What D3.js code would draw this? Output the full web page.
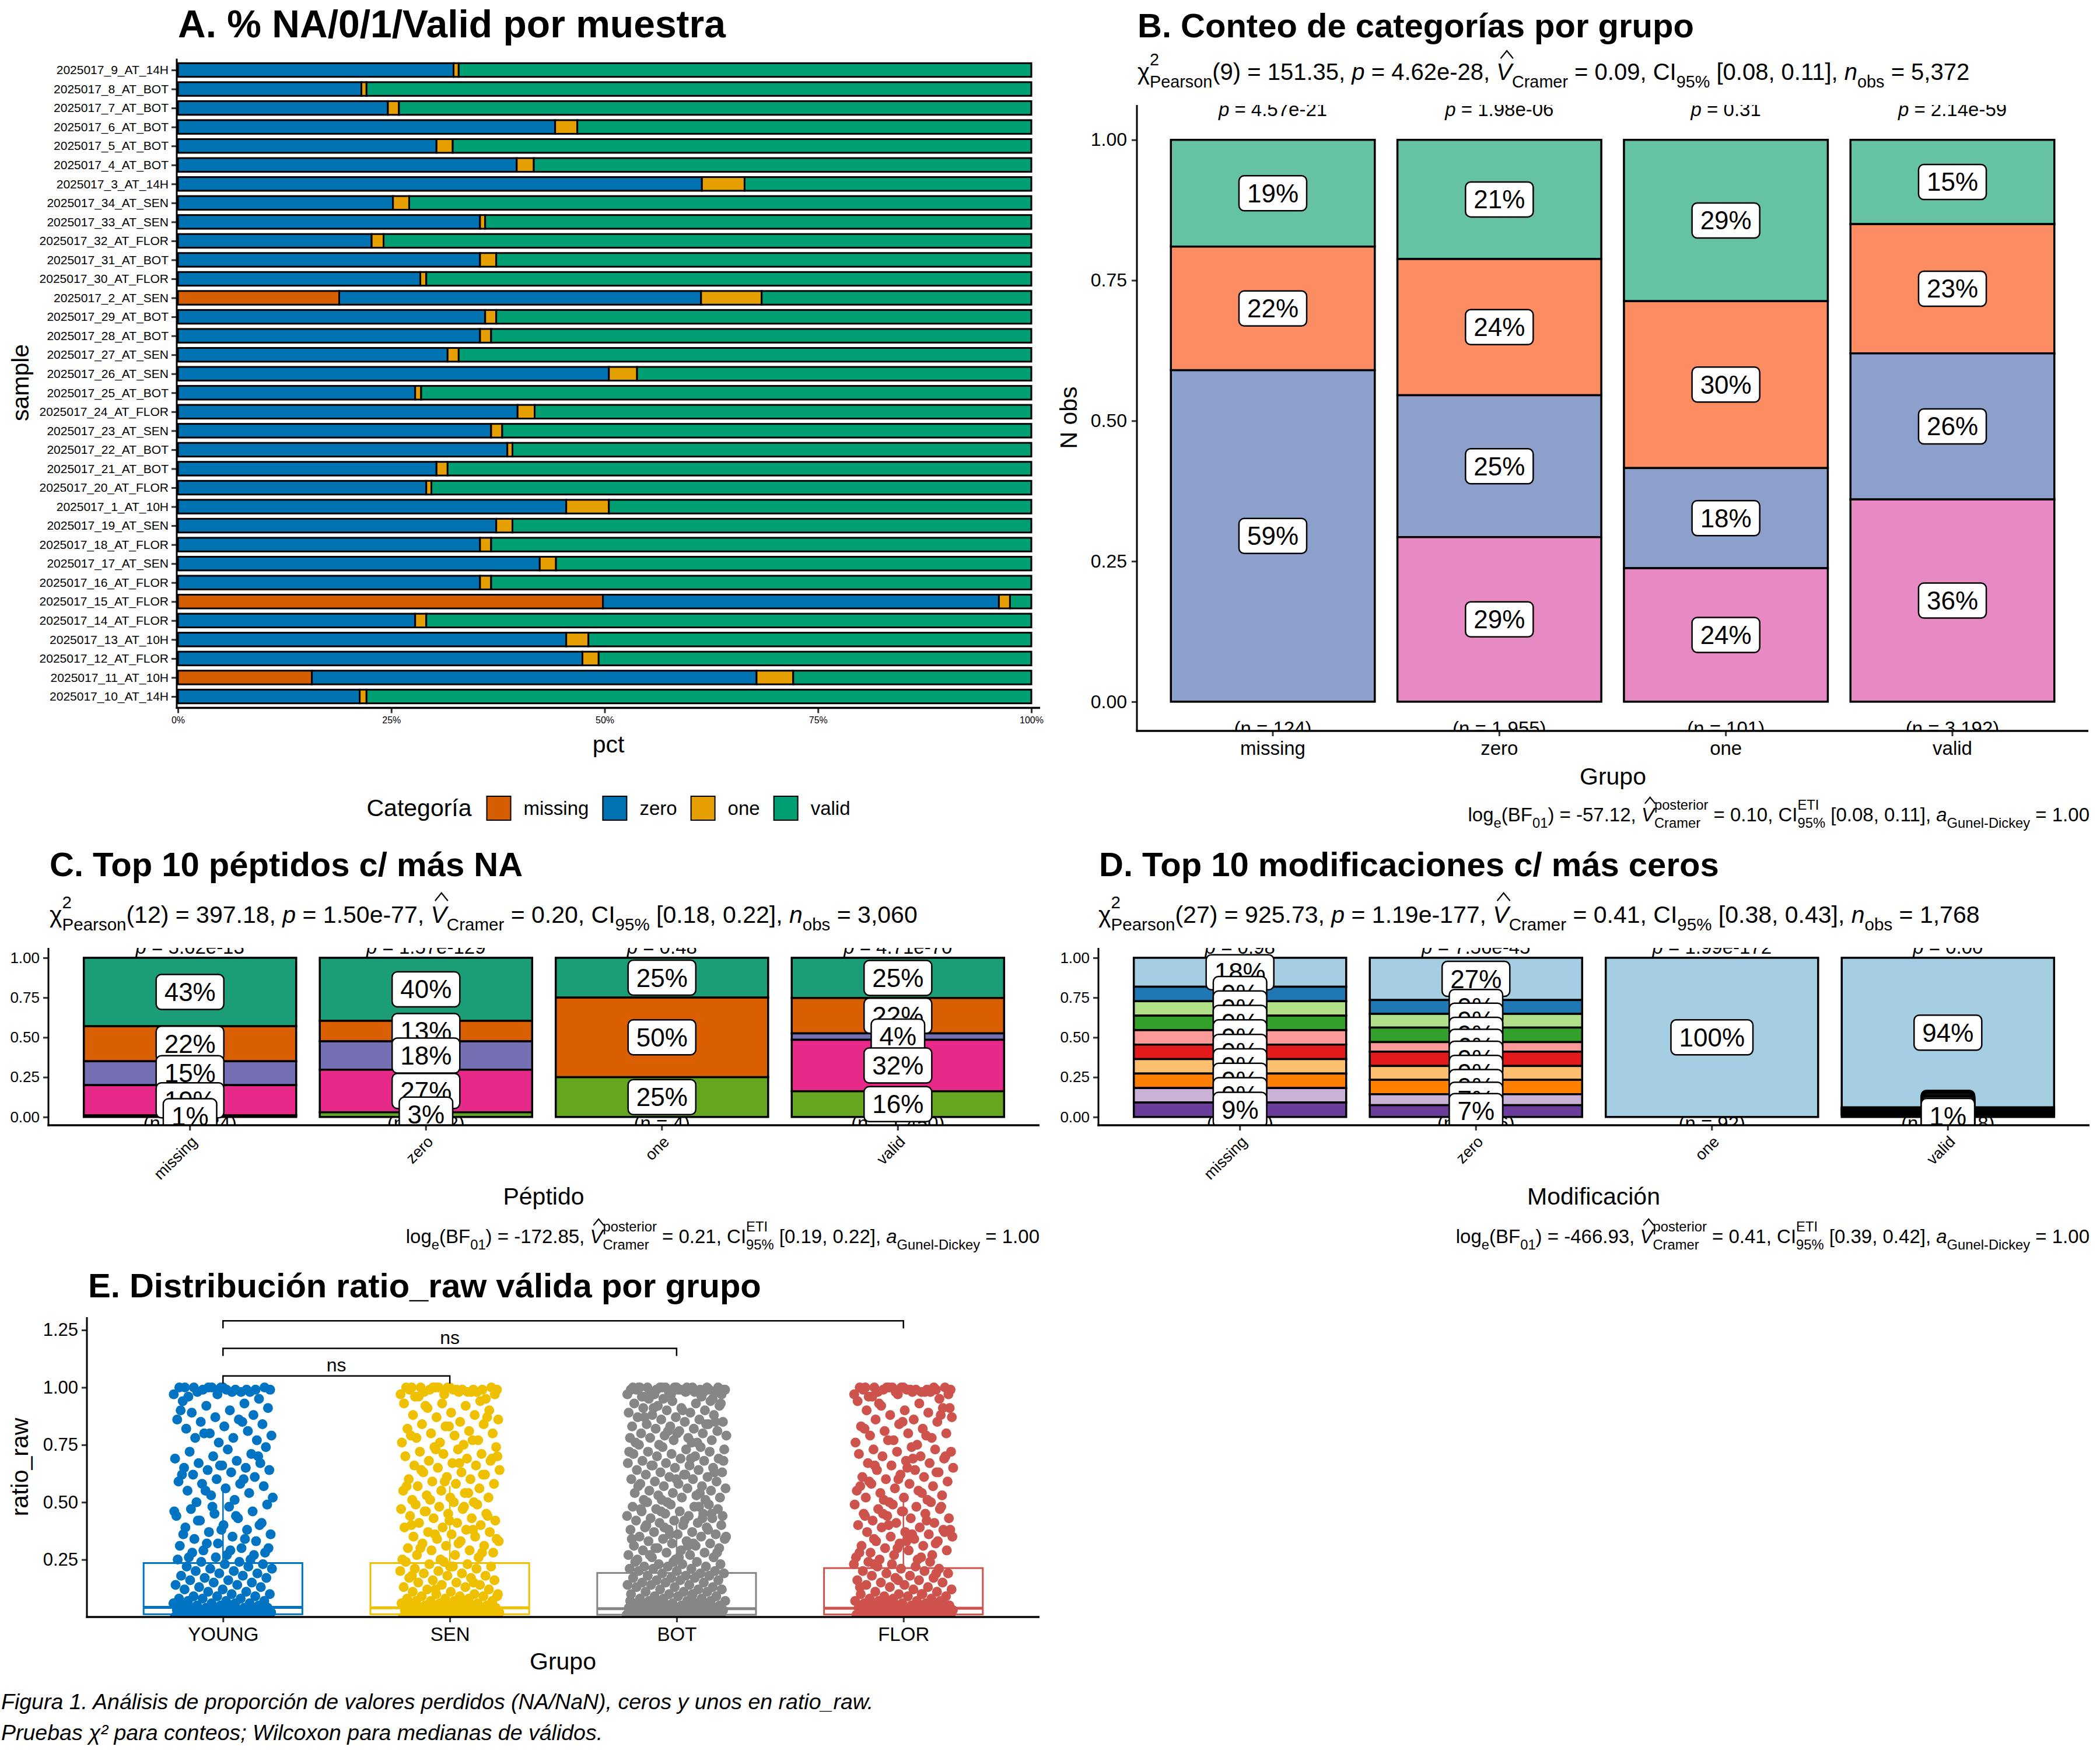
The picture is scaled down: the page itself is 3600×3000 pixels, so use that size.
<!DOCTYPE html>
<html>
<head>
<meta charset="utf-8">
<script src="https://cdn.jsdelivr.net/npm/d3@7"></script>
<style>
  body { margin: 0; background: #fff; }
  svg text { font-family: "Liberation Sans", Arial, Helvetica, sans-serif; fill: #000; }
</style>
</head>
<body>
<svg id="fig" width="3600" height="3000"></svg>
<script>
/* ---------- data: panel A ---------- */
const catsA = ["missing", "zero", "one", "valid"];
const catColorsA = ["#D55E00", "#0072B2", "#E69F00", "#009E73"];
const samples = [
  "2025017_9_AT_14H", "2025017_8_AT_BOT", "2025017_7_AT_BOT", "2025017_6_AT_BOT",
  "2025017_5_AT_BOT", "2025017_4_AT_BOT", "2025017_3_AT_14H", "2025017_34_AT_SEN",
  "2025017_33_AT_SEN", "2025017_32_AT_FLOR", "2025017_31_AT_BOT", "2025017_30_AT_FLOR",
  "2025017_2_AT_SEN", "2025017_29_AT_BOT", "2025017_28_AT_BOT", "2025017_27_AT_SEN",
  "2025017_26_AT_SEN", "2025017_25_AT_BOT", "2025017_24_AT_FLOR", "2025017_23_AT_SEN",
  "2025017_22_AT_BOT", "2025017_21_AT_BOT", "2025017_20_AT_FLOR", "2025017_1_AT_10H",
  "2025017_19_AT_SEN", "2025017_18_AT_FLOR", "2025017_17_AT_SEN", "2025017_16_AT_FLOR",
  "2025017_15_AT_FLOR", "2025017_14_AT_FLOR", "2025017_13_AT_10H", "2025017_12_AT_FLOR",
  "2025017_11_AT_10H", "2025017_10_AT_14H"
];
const pctMissing = [0, 0, 0, 0, 0, 0, 0, 0, 0, 0, 0, 0, .189, 0, 0, 0, 0, 0, 0, 0, 0, 0, 0, 0, 0, 0, 0, 0, .498, 0, 0, 0, .157, 0];
const pctZero = [.323, .215, .246, .442, .303, .397, .614, .252, .354, .227, .354, .284, .424, .360, .354, .316,
  .505, .278, .398, .367, .386, .303, .291, .455, .373, .354, .424, .354, .464, .278, .455, .474, .521, .213];
const pctOne = [.006, .006, .013, .026, .019, .020, .050, .019, .006, .014, .019, .007, .071, .013, .013, .013,
  .033, .007, .020, .013, .006, .013, .006, .050, .019, .013, .019, .013, .013, .013, .026, .019, .043, .008];
const pctValid = [.671, .779, .741, .532, .678, .583, .336, .729, .640, .759, .627, .709, .316, .627, .633, .671,
  .462, .715, .582, .620, .608, .684, .703, .495, .608, .633, .557, .633, .025, .709, .519, .507, .279, .779];

/* ---------- data: panel B ---------- */
const groupsB = ["missing", "zero", "one", "valid"];
const colorsB = ["#66C2A5", "#FC8D62", "#8DA0CB", "#E78AC3"];   // top -> bottom
const pctB = [[19, 22, 59, 0], [21, 24, 25, 29], [29, 30, 18, 24], [15, 23, 26, 36]];
const nB = [124, 1955, 101, 3192];
const pB = ["4.57e-21", "1.98e-06", "0.31", "2.14e-59"];

/* ---------- data: panel C ---------- */
const colorsC = ["#1B9E77", "#D95F02", "#7570B3", "#E7298A", "#66A61E"];
const pctC = [[43, 22, 15, 19, 1], [40, 13, 18, 27, 3], [25, 50, 0, 0, 25], [25, 22, 4, 32, 16]];
const nC = [1024, 582, 4, 1450];
const pC = ["5.62e-13", "1.57e-129", "0.48", "4.71e-70"];

/* ---------- data: panel D ---------- */
const colorsD = ["#A6CEE3", "#1F78B4", "#B2DF8A", "#33A02C", "#FB9A99", "#E31A1C", "#FDBF6F", "#FF7F00", "#CAB2D6", "#6A3D9A"];
const pctD = [
  [18.2, 9.1, 9.1, 9.1, 9.1, 9.1, 9.1, 9.1, 9.1, 9.1],
  [26.5, 8.7, 8.6, 9.1, 6.0, 9.0, 8.7, 9.0, 6.9, 7.4],
  [100, 0, 0, 0, 0, 0, 0, 0, 0, 0],
  [94, 0.6, 0.5, 0.6, 0.4, 0.9, 0.6, 0.5, 0.6, 1.3]
];
const nD = [22, 636, 92, 1018];
const pD = ["0.98", "7.56e-45", "1.99e-172", "0.00"];

/* ---------- stats strings (subtitle / caption) ---------- */
const subB = ["9", "151.35", "4.62e-28", "0.09", "[0.08, 0.11]", "5,372"];
const subC = ["12", "397.18", "1.50e-77", "0.20", "[0.18, 0.22]", "3,060"];
const subD = ["27", "925.73", "1.19e-177", "0.41", "[0.38, 0.43]", "1,768"];
const capB = ["-57.12", "0.10", "[0.08, 0.11]", "1.00"];
const capC = ["-172.85", "0.21", "[0.19, 0.22]", "1.00"];
const capD = ["-466.93", "0.41", "[0.39, 0.42]", "1.00"];

/* ---------- data: panel E ---------- */
const groupsE = ["YOUNG", "SEN", "BOT", "FLOR"];
const colorsE = ["#0073C2", "#EFC000", "#868686", "#CD534C"];
const boxQ1 = [.012, .012, .010, .011];
const boxMed = [.042, .040, .036, .038];
const boxQ3 = [.235, .235, .192, .213];
const whiskHi = [.56, .57, .46, .51];
const bracketFrom = ["YOUNG", "YOUNG", "YOUNG"];
const bracketTo = ["SEN", "BOT", "FLOR"];
const bracketY = [1.05, 1.17, 1.29];
const bracketLab = ["ns", "ns", "ns"];
const ratioYoung = [1,1,.99,1,.99,.98,1,.99,.97,1,.98,.99,1,.99,.96,.98,1,.97,.99,.98,.95,1,
  .94,.93,.92,.91,.9,.89,.88,.87,.86,.86,.85,.84,.83,.82,.81,.8,.79,.78,.78,.77,.76,.9,.85,.8,
  .74,.73,.72,.71,.7,.69,.68,.67,.67,.66,.65,.65,.64,.64,.63,.62,.61,.6,.59,.58,.58,.57,.56,.55,.54,.53,.52,.51,.5,.7,.66,.62,.6,.55,
  .49,.48,.47,.46,.45,.44,.43,.42,.41,.4,.39,.38,.37,.36,.35,.34,.33,.32,.31,.3,.29,.28,.27,.26,.25,.48,.46,.44,.42,.4,.38,.36,.34,.32,.3,.29,.28,.27,.26,.25,
  .24,.24,.23,.23,.22,.22,.21,.21,.2,.2,.19,.19,.18,.18,.17,.17,.16,.16,.15,.15,.14,.14,.13,.13,.12,.12,.11,.11,.1,.1,
  .09,.09,.09,.08,.08,.08,.07,.07,.07,.06,.06,.06,.06,.05,.05,.05,.05,.04,.04,.04,.04,.04,.03,.03,.03,.03,.03,
  .02,.02,.02,.02,.02,.02,.01,.01,.01,.01,.01,.01,.01,0,0,0,0,0,0,.02,.03,.04,.05];
const ratioSen = [1,1,.99,1,.99,.98,1,.99,.97,1,.98,.99,1,.99,.96,.98,1,.97,.99,.98,.95,1,.99,.98,1,.97,.99,.96,
  .94,.93,.93,.92,.91,.9,.89,.88,.88,.87,.86,.85,.84,.84,.83,.82,.81,.8,.8,.79,.78,.77,.76,.76,.75,.92,.87,.83,.79,.77,
  .74,.74,.73,.72,.71,.71,.7,.69,.68,.68,.67,.66,.66,.65,.64,.63,.63,.62,.61,.6,.6,.59,.58,.58,.57,.56,.55,.55,.54,.53,.52,.52,.51,.5,.73,.7,.67,.64,.62,.59,.57,.54,.51,.69,
  .5,.49,.49,.48,.47,.47,.46,.45,.45,.44,.43,.43,.42,.41,.41,.4,.39,.39,.38,.37,.37,.36,.35,.35,.34,.33,.33,.32,.31,.31,.3,.29,.29,.28,.27,.27,.26,.25,.25,.48,.46,.44,.42,.4,.38,.36,.34,.32,.3,.28,
  .24,.24,.23,.23,.22,.22,.21,.21,.2,.2,.19,.19,.18,.18,.17,.17,.16,.16,.15,.15,.14,.14,.13,.13,.12,.12,.11,.11,.1,.1,.1,
  .09,.09,.09,.08,.08,.08,.07,.07,.07,.07,.06,.06,.06,.06,.05,.05,.05,.05,.05,.04,.04,.04,.04,.04,.03,.03,.03,.03,.03,.03,
  .02,.02,.02,.02,.02,.02,.01,.01,.01,.01,.01,.01,.01,0,0,0,0,0,0,0,.22,.18,.15,.12,.09,.06,.04,.02,.01];
const ratioBot = [1,1,.99,1,.99,.98,1,.99,.97,1,.98,.99,1,.99,.96,.98,1,.97,.99,.98,.95,1,.99,.98,1,.97,.99,.96,1,.98,.99,1,.97,.98,.99,1,.96,.95,.99,1,
  .95,.94,.94,.93,.93,.92,.92,.91,.91,.9,.9,.89,.89,.88,.88,.87,.87,.86,.86,.85,.85,.84,.84,.83,.83,.82,.82,.81,.81,.8,.8,.79,.79,.78,.78,.77,.77,.76,.76,.75,.93,.9,.87,.84,.81,.78,.76,.91,.85,.8,
  .75,.74,.74,.73,.73,.72,.72,.71,.71,.7,.7,.69,.69,.68,.68,.67,.67,.66,.66,.65,.65,.64,.64,.63,.63,.62,.62,.61,.61,.6,.6,.59,.59,.58,.58,.57,.57,.56,.56,.55,.55,.54,.54,.53,.53,.52,.52,.51,.51,.5,.72,.69,.66,.63,.6,.57,.54,.51,.68,.62,
  .5,.49,.49,.48,.48,.47,.47,.46,.46,.45,.45,.44,.44,.43,.43,.42,.42,.41,.41,.4,.4,.39,.39,.38,.38,.37,.37,.36,.36,.35,.35,.34,.34,.33,.33,.32,.32,.31,.31,.3,.3,.29,.29,.28,.28,.27,.27,.26,.26,.25,.25,.48,.46,.44,.42,.4,.38,.36,.34,.32,.3,.28,.26,.47,.43,.39,.35,.31,.27,.45,
  .24,.24,.24,.23,.23,.23,.22,.22,.22,.21,.21,.21,.2,.2,.2,.19,.19,.19,.18,.18,.18,.17,.17,.17,.16,.16,.16,.15,.15,.15,.14,.14,.14,.13,.13,.13,.12,.12,.12,.11,.11,.11,.1,.1,.1,
  .09,.09,.09,.08,.08,.08,.07,.07,.07,.07,.06,.06,.06,.06,.05,.05,.05,.05,.05,.04,.04,.04,.04,.04,.03,.03,.03,.03,.03,.03,
  .02,.02,.02,.02,.02,.02,.01,.01,.01,.01,.01,.01,.01,0,0,0,0,0,0,0,.02,.03,.05,.07,.09];
const ratioFlor = [1,1,.99,1,.99,.98,1,.99,.97,1,.98,.99,1,.99,.96,.98,1,.97,.99,.98,.95,1,.99,.98,1,.97,.99,.96,1,.98,
  .94,.93,.92,.91,.9,.9,.89,.88,.87,.86,.86,.85,.84,.83,.82,.81,.8,.8,.79,.78,.77,.76,.75,.93,.88,.85,.82,.79,.77,.91,
  .74,.73,.73,.72,.71,.7,.7,.69,.68,.67,.67,.66,.65,.64,.64,.63,.62,.61,.61,.6,.59,.58,.58,.57,.56,.55,.55,.54,.53,.52,.52,.51,.5,.72,.69,.66,.63,.6,.57,.54,.51,.7,.65,.59,
  .5,.49,.49,.48,.47,.47,.46,.45,.45,.44,.43,.43,.42,.41,.41,.4,.39,.39,.38,.37,.37,.36,.35,.35,.34,.33,.33,.32,.31,.31,.3,.29,.29,.28,.27,.27,.26,.25,.25,.48,.46,.44,.42,.4,.38,.36,.34,.32,.3,.28,.26,.45,.37,.33,
  .24,.24,.23,.23,.22,.22,.21,.21,.2,.2,.19,.19,.18,.18,.17,.17,.16,.16,.15,.15,.14,.14,.13,.13,.12,.12,.11,.11,.1,.1,.1,
  .09,.09,.09,.08,.08,.08,.07,.07,.07,.07,.06,.06,.06,.06,.05,.05,.05,.05,.05,.04,.04,.04,.04,.04,.03,.03,.03,.03,.03,.03,
  .02,.02,.02,.02,.02,.02,.01,.01,.01,.01,.01,.01,.01,0,0,0,0,0,0,0,.23,.19,.16,.13,.1,.07,.05,.03,.01];
const ratioE = [ratioYoung, ratioSen, ratioBot, ratioFlor];

/* ---------- helpers ---------- */
const svg = d3.select("#fig");

function txt(g, x, y, s, size, o = {}) {
  const t = g.append("text").attr("x", x).attr("y", y).style("font-size", size + "px").text(s);
  if (o.anchor) t.attr("text-anchor", o.anchor);
  if (o.bold) t.style("font-weight", "bold");
  if (o.italic) t.style("font-style", "italic");
  if (o.rot) t.attr("transform", `rotate(${o.rot},${x},${y})`);
  return t;
}

// plotmath-ish line: segments of plain / italic / stacked sup+sub text
function rich(parent, x, y, segs, fs, anchor) {
  const g = parent.append("g");
  const ss = fs * 0.72;
  let cx = 0;
  const put = (s, dy, size, it) => {
    const t = g.append("text").attr("x", cx).attr("y", dy).style("font-size", size + "px")
      .text(s.replace(/ /g, "\u00A0"));
    if (it) t.style("font-style", "italic");
    return t.node().getComputedTextLength();
  };
  segs.forEach((s) => {
    if (s.t !== undefined) {
      const w = put(s.t, 0, fs, s.it);
      if (s.hat) {
        g.append("path")
          .attr("d", `M${cx + w * 0.15 + fs * 0.08},${-fs * 0.92} L${cx + w * 0.55 + fs * 0.08},${-fs * 1.25} L${cx + w * 0.95 + fs * 0.08},${-fs * 0.92}`)
          .attr("fill", "none").attr("stroke", "#000").attr("stroke-width", 2.2);
      }
      cx += w;
    } else {
      let w1 = 0, w2 = 0;
      if (s.sup) w1 = put(s.sup, -fs * 0.62, ss);
      if (s.sub) w2 = put(s.sub, fs * 0.32, ss);
      cx += Math.max(w1, w2);
    }
  });
  const x0 = anchor === "end" ? x - cx : x;
  g.attr("transform", `translate(${x0},${y})`);
}

function subtitleSegs(v) {
  return [
    { t: "χ" }, { sup: "2", sub: "Pearson" }, { t: `(${v[0]}) = ${v[1]}, ` },
    { t: "p", it: 1 }, { t: ` = ${v[2]}, ` },
    { t: "V", it: 1, hat: 1 }, { sub: "Cramer" }, { t: ` = ${v[3]}, CI` },
    { sub: "95%" }, { t: ` ${v[4]}, ` }, { t: "n", it: 1 }, { sub: "obs" }, { t: ` = ${v[5]}` }
  ];
}
function captionSegs(v) {
  return [
    { t: "log" }, { sub: "e" }, { t: "(BF" }, { sub: "01" }, { t: `) = ${v[0]}, ` },
    { t: "V", it: 1, hat: 1 }, { sup: "posterior", sub: "Cramer" }, { t: ` = ${v[1]}, CI` },
    { sup: "ETI", sub: "95%" }, { t: ` ${v[2]}, ` }, { t: "a", it: 1 }, { sub: "Gunel-Dickey" },
    { t: ` = ${v[3]}` }
  ];
}

function styleAxis(ax, size) {
  ax.attr("font-family", null).attr("font-size", null);
  ax.select(".domain").remove();
  ax.selectAll(".tick line").attr("stroke", "#333").attr("stroke-width", 3);
  ax.selectAll(".tick text").style("font-size", size + "px").attr("fill", "#000");
}

function axisLines(g, x0, x1, y0, y1) {
  // y0 = bottom (x-axis), y1 = top
  g.append("line").attr("x1", x0).attr("x2", x0).attr("y1", y1).attr("y2", y0 + 1.5)
    .attr("stroke", "#000").attr("stroke-width", 3);
  g.append("line").attr("x1", x0 - 1.5).attr("x2", x1).attr("y1", y0).attr("y2", y0)
    .attr("stroke", "#000").attr("stroke-width", 3.5);
}

function pctLabel(g, cx, cy, s) {
  const lg = g.append("g");
  const t = lg.append("text").attr("x", cx).attr("y", cy + 15.5)
    .attr("text-anchor", "middle").style("font-size", "44px").text(s);
  const w = t.node().getComputedTextLength();
  lg.insert("rect", "text").attr("x", cx - w / 2 - 14).attr("y", cy - 30)
    .attr("width", w + 28).attr("height", 60).attr("rx", 9)
    .attr("fill", "#fff").attr("stroke", "#000").attr("stroke-width", 2.5);
}

/* stacked-proportion panel (B, C, D) */
function mosaic(g, xs, ys, groups, pcts, colors, ns, ps, clipId) {
  const [x0, x1] = xs.range();
  const [yb, yt] = ys.range();
  g.append("clipPath").attr("id", clipId).append("rect")
    .attr("x", x0).attr("y", yt).attr("width", x1 - x0).attr("height", yb - yt);
  const pg = g.append("g").attr("clip-path", `url(#${clipId})`);

  const segs = [];
  groups.forEach((grp, i) => {
    const tot = d3.sum(pcts[i]);
    let top = 1;
    pcts[i].forEach((v, k) => {
      const share = v / tot;
      segs.push({ grp, k, v, share, top, bot: top - share });
      top -= share;
    });
  });
  const shown = segs.filter((s) => s.v > 0);

  pg.selectAll("rect.seg").data(shown).join("rect").attr("class", "seg")
    .attr("x", (d) => xs(d.grp)).attr("width", xs.bandwidth())
    .attr("y", (d) => ys(d.top)).attr("height", (d) => ys(d.bot) - ys(d.top))
    .attr("fill", (d) => colors[d.k]).attr("stroke", "#000").attr("stroke-width", 3.5);

  groups.forEach((grp, i) => {
    const cx = xs(grp) + xs.bandwidth() / 2;
    const pt = pg.append("text").attr("x", cx).attr("y", ys(1.05) + 7)
      .attr("text-anchor", "middle").style("font-size", "33px");
    pt.append("tspan").style("font-style", "italic").text("p");
    pt.append("tspan").text(" = " + ps[i]);
    pg.append("text").attr("x", cx).attr("y", ys(-0.05) + 9)
      .attr("text-anchor", "middle").style("font-size", "33px")
      .text("(n = " + d3.format(",")(ns[i]) + ")");
  });

  shown.forEach((s) => {
    pctLabel(pg, xs(s.grp) + xs.bandwidth() / 2, ys((s.top + s.bot) / 2), Math.round(s.share * 100) + "%");
  });
}

/* ---------- panel A ---------- */
const gA = svg.append("g");
const xA = d3.scaleLinear().domain([0, 1]).range([305, 1768]);
const yA = d3.scalePoint().domain(samples).range([100.5, 1213.5]).padding(0.6);
const barHA = yA.step() * 0.72;
const rowsA = samples.map((s, i) => ({
  sample: s, missing: pctMissing[i], zero: pctZero[i], one: pctOne[i], valid: pctValid[i]
}));
const stackA = d3.stack().keys(catsA)(rowsA);

gA.selectAll("g.layer").data(stackA).join("g").attr("class", "layer")
  .attr("fill", (d, i) => catColorsA[i])
  .selectAll("rect").data((d) => d.filter((v) => v[1] - v[0] > 0)).join("rect")
  .attr("x", (d) => xA(d[0])).attr("width", (d) => xA(d[1]) - xA(d[0]))
  .attr("y", (d) => yA(d.data.sample) - barHA / 2).attr("height", barHA)
  .attr("stroke", "#000").attr("stroke-width", 3);

const axAy = gA.append("g").attr("transform", "translate(303,0)")
  .call(d3.axisLeft(yA).tickSize(9).tickPadding(5));
styleAxis(axAy, 21);
const axAx = gA.append("g").attr("transform", "translate(0,1213.5)")
  .call(d3.axisBottom(xA).tickValues([0, .25, .5, .75, 1]).tickFormat(d3.format(".0%")).tickSize(9).tickPadding(6));
styleAxis(axAx, 16);
axisLines(gA, 303, 1783, 1213.5, 100.5);
txt(gA, 305, 64, "A. % NA/0/1/Valid por muestra", 66, { bold: 1 });
txt(gA, 1043, 1290, "pct", 41, { anchor: "middle" });
txt(gA, 49, 656, "sample", 41, { anchor: "middle", rot: -90 });

// legend
const lgA = gA.append("g");
let lx = 0;
const ltitle = txt(lgA, 0, 14, "Categoría", 41);
lx += ltitle.node().getComputedTextLength() + 26;
catsA.forEach((c, i) => {
  lgA.append("rect").attr("x", lx).attr("y", -20).attr("width", 41).attr("height", 41)
    .attr("fill", catColorsA[i]).attr("stroke", "#000").attr("stroke-width", 2);
  lx += 41 + 22;
  const t = txt(lgA, lx, 12, c, 33);
  lx += t.node().getComputedTextLength() + (i < catsA.length - 1 ? 24 : 0);
});
lgA.attr("transform", `translate(${1043 - lx / 2},1385)`);

/* ---------- panel B ---------- */
const gB = svg.append("g");
const xB = d3.scaleBand().domain(groupsB).range([1949, 3580]).paddingInner(0.1).paddingOuter(0.15);
const yB = d3.scaleLinear().domain([-0.052, 1.062]).range([1253, 180]);
mosaic(gB, xB, yB, groupsB, pctB, colorsB, nB, pB, "clipB");
const axBy = gB.append("g").attr("transform", "translate(1949,0)")
  .call(d3.axisLeft(yB).tickValues([0, .25, .5, .75, 1]).tickFormat(d3.format(".2f")).tickSize(9).tickPadding(8));
styleAxis(axBy, 32);
const axBx = gB.append("g").attr("transform", "translate(0,1253)")
  .call(d3.axisBottom(xB).tickSize(9).tickPadding(9));
styleAxis(axBx, 33);
axisLines(gB, 1949, 3580, 1253, 180);
txt(gB, 1950, 64, "B. Conteo de categorías por grupo", 58, { bold: 1 });
rich(gB, 1950, 137, subtitleSegs(subB), 40, "start");
txt(gB, 2765, 1345, "Grupo", 41, { anchor: "middle" });
txt(gB, 1846, 716, "N obs", 41, { anchor: "middle", rot: -90 });
rich(gB, 3582, 1408, captionSegs(capB), 33, "end");

/* ---------- panel C ---------- */
const gC = svg.append("g");
const xC = d3.scaleBand().domain(groupsB).range([83, 1782]).paddingInner(0.1).paddingOuter(0.15);
const yC = d3.scaleLinear().domain([-0.052, 1.062]).range([1929, 1625]);
mosaic(gC, xC, yC, groupsB, pctC, colorsC, nC, pC, "clipC");
const axCy = gC.append("g").attr("transform", "translate(83,0)")
  .call(d3.axisLeft(yC).tickValues([0, .25, .5, .75, 1]).tickFormat(d3.format(".2f")).tickSize(9).tickPadding(6));
styleAxis(axCy, 26);
const axCx = gC.append("g").attr("transform", "translate(0,1929)")
  .call(d3.axisBottom(xC).tickSize(9));
styleAxis(axCx, 27);
axCx.selectAll(".tick text").attr("text-anchor", "end").attr("y", 0).attr("dy", null)
  .attr("transform", "translate(14,30) rotate(-45)");
axisLines(gC, 83, 1782, 1929, 1625);
txt(gC, 85, 1502, "C. Top 10 péptidos c/ más NA", 58, { bold: 1 });
rich(gC, 85, 1582, subtitleSegs(subC), 41, "start");
txt(gC, 932, 2065, "Péptido", 41, { anchor: "middle" });
rich(gC, 1782, 2131, captionSegs(capC), 33, "end");

/* ---------- panel D ---------- */
const gD = svg.append("g");
const xD = d3.scaleBand().domain(groupsB).range([1883, 3582]).paddingInner(0.1).paddingOuter(0.15);
const yD = d3.scaleLinear().domain([-0.052, 1.062]).range([1929, 1625]);
mosaic(gD, xD, yD, groupsB, pctD, colorsD, nD, pD, "clipD");
const axDy = gD.append("g").attr("transform", "translate(1883,0)")
  .call(d3.axisLeft(yD).tickValues([0, .25, .5, .75, 1]).tickFormat(d3.format(".2f")).tickSize(9).tickPadding(6));
styleAxis(axDy, 26);
const axDx = gD.append("g").attr("transform", "translate(0,1929)")
  .call(d3.axisBottom(xD).tickSize(9));
styleAxis(axDx, 27);
axDx.selectAll(".tick text").attr("text-anchor", "end").attr("y", 0).attr("dy", null)
  .attr("transform", "translate(14,30) rotate(-45)");
axisLines(gD, 1883, 3582, 1929, 1625);
txt(gD, 1884, 1502, "D. Top 10 modificaciones c/ más ceros", 58, { bold: 1 });
rich(gD, 1883, 1582, subtitleSegs(subD), 41, "start");
txt(gD, 2732, 2065, "Modificación", 41, { anchor: "middle" });
rich(gD, 3582, 2131, captionSegs(capD), 33, "end");

/* ---------- panel E ---------- */
const gE = svg.append("g");
const xE = d3.scalePoint().domain(groupsE).range([149, 1782]).padding(0.6);
const yE = d3.scaleLinear().domain([0, 1.306]).range([2772, 2258]);
const boxW = xE.step() * 0.7;
const jitW = xE.step() * 0.22;
gE.append("clipPath").attr("id", "clipE").append("rect")
  .attr("x", 149).attr("y", 2258).attr("width", 1782 - 149).attr("height", 2772 - 2258);
const pE = gE.append("g").attr("clip-path", "url(#clipE)");

groupsE.forEach((grp, i) => {
  const cx = xE(grp);
  const col = colorsE[i];
  pE.append("line").attr("x1", cx).attr("x2", cx).attr("y1", yE(boxQ3[i])).attr("y2", yE(whiskHi[i]))
    .attr("stroke", col).attr("stroke-width", 2.5);
  pE.append("rect").attr("x", cx - boxW / 2).attr("width", boxW)
    .attr("y", yE(boxQ3[i])).attr("height", yE(boxQ1[i]) - yE(boxQ3[i]))
    .attr("fill", "#fff").attr("stroke", col).attr("stroke-width", 3);
  pE.append("line").attr("x1", cx - boxW / 2).attr("x2", cx + boxW / 2)
    .attr("y1", yE(boxMed[i])).attr("y2", yE(boxMed[i])).attr("stroke", col).attr("stroke-width", 5);
  // jitter offsets from a fixed golden-ratio sequence (layout only)
  pE.append("g").selectAll("circle").data(ratioE[i]).join("circle")
    .attr("cx", (d, k) => cx + (((k * 0.6180339887 + 0.5) % 1) - 0.5) * 2 * jitW)
    .attr("cy", (d) => yE(d)).attr("r", 8.5).attr("fill", col);
});

bracketFrom.forEach((f, i) => {
  const xa = xE(f), xb = xE(bracketTo[i]), yy = yE(bracketY[i]);
  pE.append("path").attr("d", `M${xa},${yy + 13} V${yy} H${xb} V${yy + 13}`)
    .attr("fill", "none").attr("stroke", "#000").attr("stroke-width", 2.5);
  txt(pE, (xa + xb) / 2, yy - 8, bracketLab[i], 32, { anchor: "middle" });
});

const axEy = gE.append("g").attr("transform", "translate(149,0)")
  .call(d3.axisLeft(yE).tickValues([.25, .5, .75, 1, 1.25]).tickFormat(d3.format(".2f")).tickSize(9).tickPadding(6));
styleAxis(axEy, 31);
const axEx = gE.append("g").attr("transform", "translate(0,2772)")
  .call(d3.axisBottom(xE).tickSize(9).tickPadding(9));
styleAxis(axEx, 33);
axisLines(gE, 149, 1782, 2772, 2258);
txt(gE, 151, 2224, "E. Distribución ratio_raw válida por grupo", 58, { bold: 1 });
txt(gE, 965, 2862, "Grupo", 41, { anchor: "middle" });
txt(gE, 48, 2515, "ratio_raw", 41, { anchor: "middle", rot: -90 });

/* ---------- figure caption ---------- */
txt(svg, 2, 2930, "Figura 1. Análisis de proporción de valores perdidos (NA/NaN), ceros y unos en ratio_raw.", 37.5, { italic: 1 });
txt(svg, 2, 2983, "Pruebas χ² para conteos; Wilcoxon para medianas de válidos.", 37.5, { italic: 1 });
</script>
</body>
</html>
